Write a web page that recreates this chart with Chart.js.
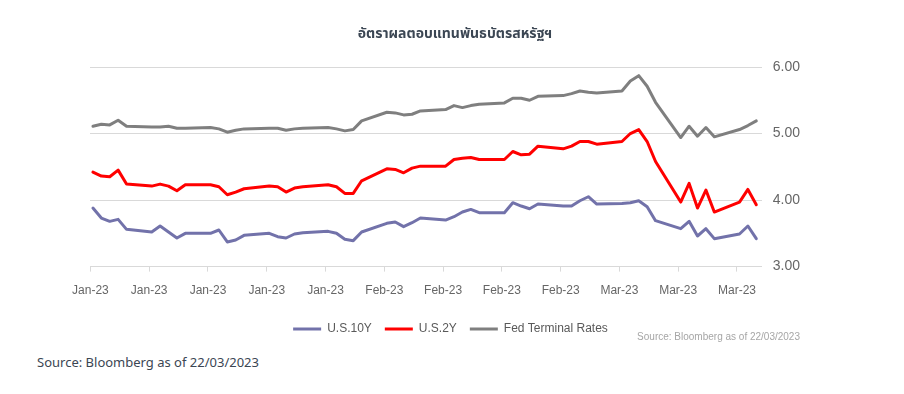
<!DOCTYPE html>
<html><head><meta charset="utf-8">
<script src="https://cdn.jsdelivr.net/npm/chart.js@4.4.1/dist/chart.umd.min.js"></script>
<style>
html,body{margin:0;padding:0;background:#fff;width:904px;height:394px;overflow:hidden;position:relative;}
#wrap{position:absolute;left:0;top:0;width:904px;height:352px;}
#title{position:absolute;left:255px;width:400px;top:23px;text-align:center;font:bold 14px "Noto Sans Thai","Noto Sans Thai UI","Noto Sans",sans-serif;color:#3b4653;white-space:nowrap;}
#note{position:absolute;right:104px;top:331px;font:10px "Liberation Sans",Arial,sans-serif;line-height:12px;color:#a6a6a6;white-space:nowrap;}
#src{position:absolute;left:37px;top:353px;font:13px "Noto Sans","Open Sans",sans-serif;color:#3b4653;white-space:nowrap;}
</style></head><body>
<div id="wrap"><canvas id="c"></canvas></div>
<div id="title">อัตราผลตอบแทนพันธบัตรสหรัฐฯ</div>
<div id="note">Source: Bloomberg as of 22/03/2023</div>
<div id="src">Source: Bloomberg as of 22/03/2023</div>
<script>
// business-day offsets from Mon 2 Jan 2023
const days = [0,1,2,3,4, 7,8,9,10,11, 14,15,16,17,18, 21,22,23,24,25, 28,29,30,31,32, 35,36,37,38,39, 42,43,44,45,46, 49,50,51,52,53, 56,57,58,59,60, 63,64,65,66,67, 70,71,72,73,74, 77,78,79];
const us10y = [3.88,3.73,3.68,3.71,3.56, 3.52,3.61,3.52,3.43,3.50, 3.50,3.55,3.37,3.40,3.47, 3.50,3.45,3.43,3.49,3.51, 3.53,3.50,3.41,3.39,3.52, 3.65,3.67,3.60,3.66,3.73, 3.70,3.75,3.82,3.86,3.81, 3.81,3.96,3.91,3.87,3.94, 3.91,3.91,3.99,4.05,3.94, 3.95,3.96,3.99,3.90,3.69, 3.57,3.68,3.46,3.57,3.42, 3.49,3.61,3.42];
const us2y = [4.42,4.36,4.35,4.45,4.24, 4.21,4.24,4.21,4.14,4.23, 4.23,4.20,4.08,4.12,4.17, 4.21,4.20,4.12,4.18,4.20, 4.23,4.20,4.10,4.10,4.29, 4.47,4.46,4.41,4.48,4.51, 4.51,4.61,4.63,4.64,4.61, 4.61,4.73,4.68,4.69,4.81, 4.77,4.81,4.88,4.88,4.84, 4.88,5.00,5.06,4.88,4.58, 3.97,4.25,3.88,4.15,3.82, 3.97,4.16,3.93];
const fedTerminal = [5.11,5.14,5.13,5.20,5.11, 5.10,5.10,5.11,5.08,5.08, 5.09,5.07,5.02,5.05,5.07, 5.08,5.08,5.05,5.07,5.08, 5.09,5.07,5.04,5.06,5.19, 5.32,5.31,5.28,5.29,5.34, 5.36,5.42,5.39,5.42,5.44, 5.46,5.53,5.53,5.50,5.56, 5.57,5.60,5.64,5.62,5.61, 5.64,5.79,5.87,5.71,5.47, 4.94,5.11,4.96,5.09,4.95, 5.06,5.12,5.19];
const tickDays = [0,7,14,21,28,35,42,49,56,63,70,77];
const tickLabels = ['Jan-23','Jan-23','Jan-23','Jan-23','Jan-23','Feb-23','Feb-23','Feb-23','Feb-23','Mar-23','Mar-23','Mar-23'];
const seriesNames = ['U.S.10Y','U.S.2Y','Fed Terminal Rates'];
const yTicks = [3,4,5,6];

const pts = arr => days.map((d,i)=>({x:d, y:arr[i]}));
const lineDs = (label, arr, color) => ({
  label, data: pts(arr), borderColor: color, backgroundColor: color,
  borderWidth: 3, pointRadius: 0, tension: 0,
  borderJoinStyle: 'round', borderCapStyle: 'round'
});
const fam = '"Liberation Sans",Arial,sans-serif';

new Chart(document.getElementById('c'), {
  type: 'line',
  data: { datasets: [
    lineDs(seriesNames[0], us10y, '#7272aa'),
    lineDs(seriesNames[1], us2y, '#ff0000'),
    lineDs(seriesNames[2], fedTerminal, '#7f7f7f')
  ]},
  options: {
    responsive: true, maintainAspectRatio: false, animation: false, devicePixelRatio: 1,
    layout: { padding: {top: 67, left: 90, right: 93, bottom: 7} },
    plugins: {
      title: {display: false},
      tooltip: {enabled: false},
      legend: {
        position: 'bottom',
        labels: { usePointStyle: true, pointStyle: 'line', pointStyleWidth: 28, boxHeight: 3,
          padding: 13, color: '#595959', font: {family: fam, size: 12} }
      }
    },
    scales: {
      x: {
        type: 'linear', min: -0.35, max: 79.65,
        afterBuildTicks: s => { s.ticks = tickDays.map(d => ({value: d - 0.3})); },
        ticks: { autoSkip: false, maxRotation: 0, padding: 12, color: '#666666', font: {family: fam, size: 12},
          callback: (v, i) => tickLabels[i] },
        grid: { display: true, drawOnChartArea: false, drawTicks: true, tickLength: 5, color: '#d9d9d9' },
        border: { display: true, color: '#d9d9d9', width: 1 }
      },
      y: {
        position: 'right', min: 3, max: 6,
        afterBuildTicks: s => { s.ticks = yTicks.map(v => ({value: v})); },
        ticks: { padding: 11, color: '#666666', font: {family: fam, size: 14}, callback: v => v.toFixed(2) },
        grid: { color: '#d9d9d9', drawTicks: false },
        border: { display: false }
      }
    }
  }
});
</script>
</body></html>
